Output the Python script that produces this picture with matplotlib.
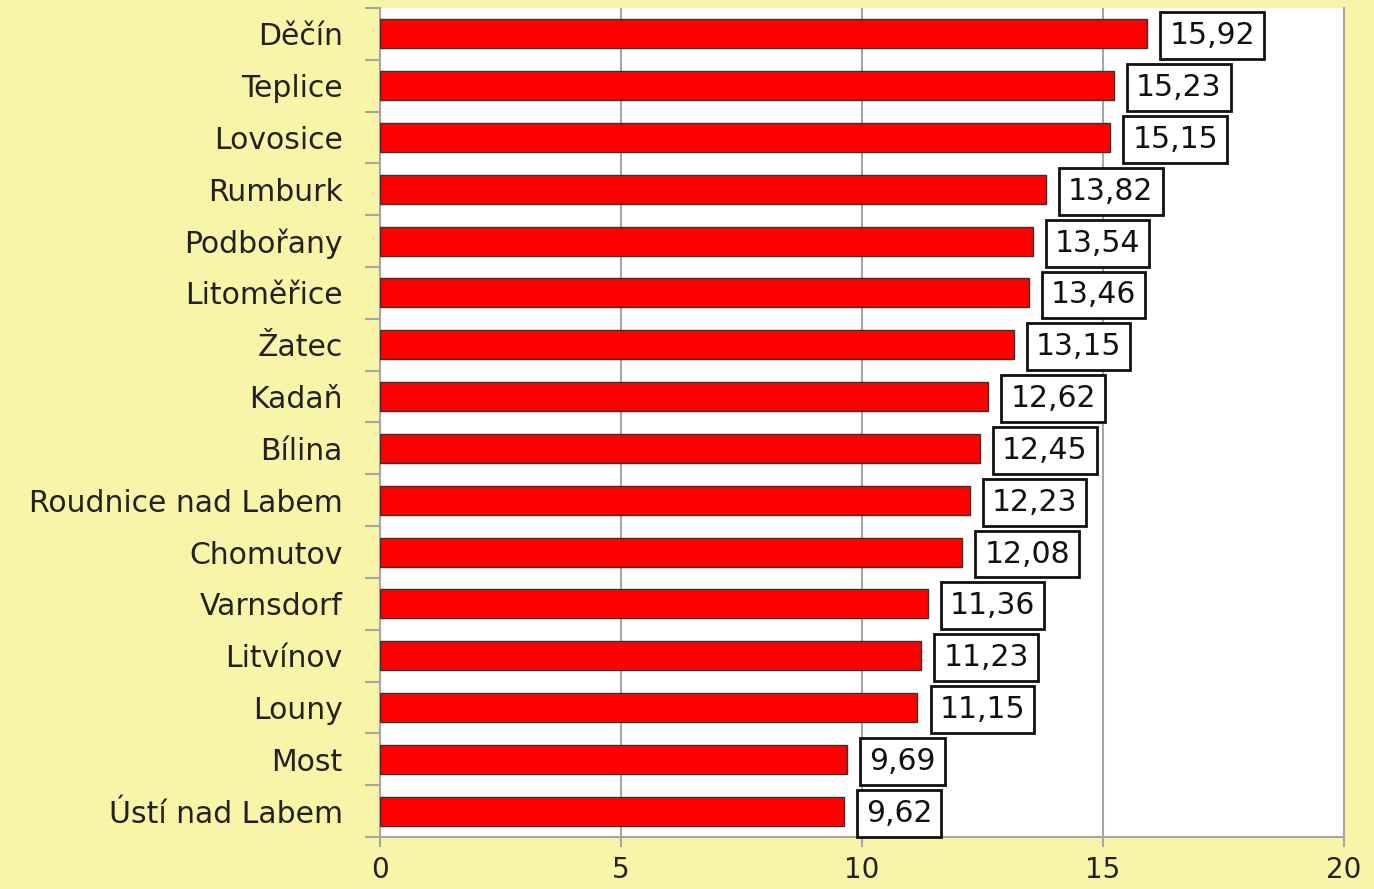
import numpy as np
import matplotlib.pyplot as plt

towns = ['Děčín', 'Teplice', 'Lovosice', 'Rumburk', 'Podbořany', 'Litoměřice',
         'Žatec', 'Kadaň', 'Bílina', 'Roudnice nad Labem', 'Chomutov',
         'Varnsdorf', 'Litvínov', 'Louny', 'Most', 'Ústí nad Labem']
values = [15.92, 15.23, 15.15, 13.82, 13.54, 13.46, 13.15, 12.62, 12.45,
          12.23, 12.08, 11.36, 11.23, 11.15, 9.69, 9.62]
xticks = [0, 5, 10, 15, 20]

bg = '#F8F4A8'
grid_c = '#A6A6A6'
fs = 21.5

fig = plt.figure(figsize=(13.74, 8.89), dpi=100, facecolor=bg)
ax = fig.add_axes([0.2766, 0.0585, 0.7016, 0.9325])
ax.set_facecolor('white')

n = len(towns)
y = np.arange(n)[::-1]
ax.barh(y, values, height=0.56, color='#FF0000', edgecolor='#333333',
        linewidth=1.0, zorder=3)

for yi, v in zip(y, values):
    ax.annotate(f'{v:.2f}'.replace('.', ','), xy=(v, yi), xytext=(22, -2),
                textcoords='offset pixels', ha='left', va='center',
                fontsize=fs, color='#111111',
                bbox=dict(boxstyle='square,pad=0.3', fc='white',
                          ec='#111111', lw=2.0), zorder=4)

ax.set_xlim(0, 20)
ax.set_ylim(-0.5, n - 0.5)
ax.set_xticks(xticks)
ax.set_xticklabels([str(t) for t in xticks], fontsize=20, color='#222222')
ax.set_yticks(y)
ax.set_yticklabels(towns, fontsize=fs, color='#222222')
ax.set_yticks(np.arange(-0.5, n, 1.0), minor=True)
ax.tick_params(axis='y', which='major', length=0, pad=27)
ax.tick_params(axis='y', which='minor', length=11, width=1.5, color=grid_c)
ax.tick_params(axis='x', length=7, width=1.5, color=grid_c, pad=7)

ax.xaxis.grid(True, color=grid_c, linewidth=1.5, zorder=0)
ax.spines['top'].set_visible(False)
for s in ['left', 'bottom', 'right']:
    ax.spines[s].set_color(grid_c)
    ax.spines[s].set_linewidth(1.5)

fig.savefig('out.png', dpi=100, facecolor=bg)
